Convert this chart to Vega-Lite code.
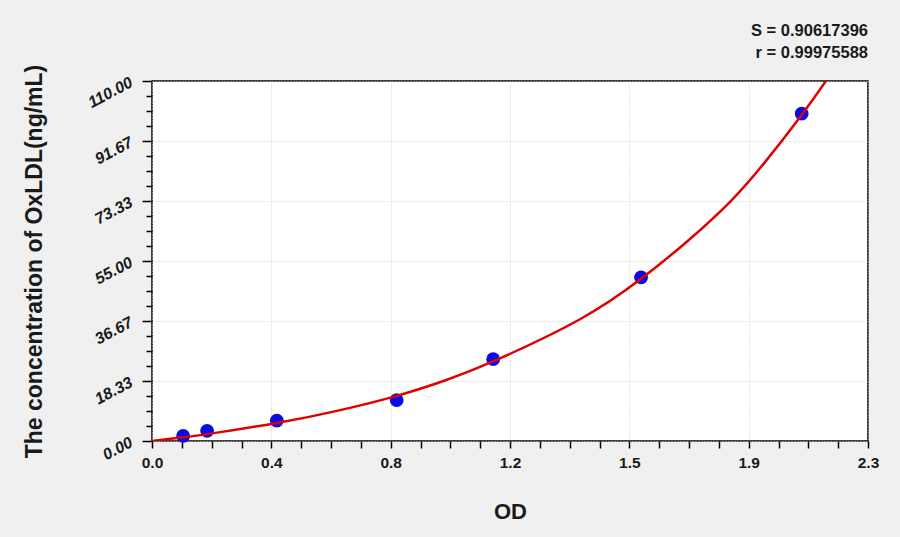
{
  "$schema": "https://vega.github.io/schema/vega-lite/v6.json",
  "width": 716,
  "height": 360,
  "autosize": "none",
  "padding": {"left": 152, "top": 81, "right": 32, "bottom": 96},
  "background": "#f0f0f0",
  "title": {
    "text": ["S = 0.90617396", "r = 0.99975588"],
    "anchor": "end",
    "frame": "group",
    "font": "Liberation Sans",
    "fontSize": 16.5,
    "fontWeight": "bold",
    "color": "#1a1a1a",
    "lineHeight": 22,
    "offset": 3
  },
  "datasets": {
    "standards": [
      {"OD": 0.100, "conc": 1.56},
      {"OD": 0.177, "conc": 3.12},
      {"OD": 0.401, "conc": 6.25},
      {"OD": 0.786, "conc": 12.5},
      {"OD": 1.096, "conc": 25},
      {"OD": 1.571, "conc": 50},
      {"OD": 2.087, "conc": 100}
    ],
    "curve": [
      {"OD": 0.0, "conc": 0.0},
      {"OD": 0.100, "conc": 1.13},
      {"OD": 0.177, "conc": 2.1},
      {"OD": 0.401, "conc": 5.5},
      {"OD": 0.594, "conc": 9.2},
      {"OD": 0.786, "conc": 13.8},
      {"OD": 0.941, "conc": 18.5},
      {"OD": 1.095, "conc": 24.3},
      {"OD": 1.375, "conc": 37.2},
      {"OD": 1.573, "conc": 49.7},
      {"OD": 1.718, "conc": 60.9},
      {"OD": 1.857, "conc": 73.1},
      {"OD": 1.964, "conc": 84.6},
      {"OD": 2.082, "conc": 99.0},
      {"OD": 2.167, "conc": 110.3},
      {"OD": 2.2, "conc": 115.0}
    ]
  },
  "encoding": {
    "x": {
      "field": "OD",
      "type": "quantitative",
      "scale": {"domain": [0, 2.3], "nice": false, "zero": false},
      "axis": {
        "orient": "bottom",
        "values": [0, 0.09583, 0.19167, 0.2875, 0.38333, 0.47917, 0.575, 0.67083, 0.76667, 0.8625, 0.95833, 1.05417, 1.15, 1.24583, 1.34167, 1.4375, 1.53333, 1.62917, 1.725, 1.82083, 1.91667, 2.0125, 2.10833, 2.20417, 2.3],
        "labelExpr": "abs(datum.value / 0.383333 - round(datum.value / 0.383333)) < 0.01 ? format(datum.value + 0.0001, '.1f') : ''",
        "grid": true,
        "gridColor": "#c8c8c8",
        "gridDash": [1, 2],
        "gridWidth": 1,
        "gridOpacity": {"condition": {"test": "abs(datum.value / 0.383333 - round(datum.value / 0.383333)) < 0.01", "value": 1}, "value": 0},
        "domain": false,
        "tickSize": 7,
        "tickWidth": 1.5,
        "tickColor": "#000000",
        "labelFont": "Liberation Sans",
        "labelFontSize": 15.5,
        "labelFontWeight": "bold",
        "labelColor": "#1a1a1a",
        "labelPadding": 7,
        "labelOverlap": false,
        "labelFlush": false,
        "title": "OD",
        "titleFont": "Liberation Sans",
        "titleFontSize": 22,
        "titleFontWeight": "bold",
        "titleColor": "#1a1a1a",
        "titleBaseline": "alphabetic",
        "titleY": 77
      }
    },
    "y": {
      "field": "conc",
      "type": "quantitative",
      "scale": {"domain": [0, 110], "nice": false, "zero": false},
      "axis": {
        "orient": "left",
        "values": [0, 4.58333, 9.16667, 13.75, 18.33333, 22.91667, 27.5, 32.08333, 36.66667, 41.25, 45.83333, 50.41667, 55, 59.58333, 64.16667, 68.75, 73.33333, 77.91667, 82.5, 87.08333, 91.66667, 96.25, 100.83333, 105.41667, 110],
        "labelExpr": "abs(datum.value / 18.33333 - round(datum.value / 18.33333)) < 0.01 ? format(datum.value, '.2f') : ''",
        "grid": true,
        "gridColor": "#c8c8c8",
        "gridDash": [1, 2],
        "gridWidth": 1,
        "gridOpacity": {"condition": {"test": "abs(datum.value / 18.33333 - round(datum.value / 18.33333)) < 0.01", "value": 1}, "value": 0},
        "domain": false,
        "tickSize": {"condition": {"test": "abs(datum.value / 18.33333 - round(datum.value / 18.33333)) < 0.01", "value": 10}, "value": 6},
        "tickWidth": 1.5,
        "tickColor": "#000000",
        "labelFont": "Liberation Sans",
        "labelFontSize": 16,
        "labelFontWeight": "bold",
        "labelFontStyle": "italic",
        "labelColor": "#1a1a1a",
        "labelAngle": -28,
        "labelAlign": "right",
        "labelBaseline": "middle",
        "labelPadding": 11,
        "labelOverlap": false,
        "labelFlush": false,
        "title": "The concentration of OxLDL(ng/mL)",
        "titleFont": "Liberation Sans",
        "titleFontSize": 23,
        "titleFontWeight": "bold",
        "titleColor": "#1a1a1a",
        "titleBaseline": "alphabetic",
        "titleX": -111,
        "titleY": 180
      }
    }
  },
  "layer": [
    {
      "data": {"name": "standards"},
      "mark": {"type": "circle", "size": 190, "opacity": 1, "color": "#0a0ae6"}
    },
    {
      "data": {"name": "curve"},
      "mark": {"type": "line", "color": "#e00000", "strokeWidth": 2.5, "interpolate": "natural", "clip": true}
    }
  ],
  "config": {
    "view": {"fill": "#ffffff", "stroke": "#000000", "strokeWidth": 1.5}
  }
}
